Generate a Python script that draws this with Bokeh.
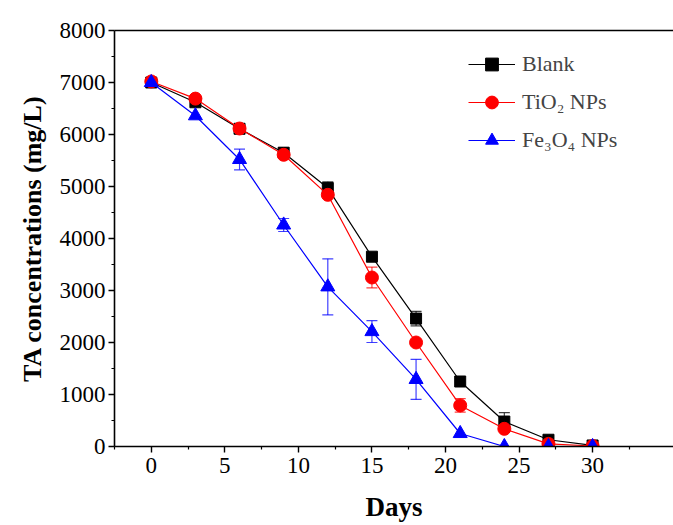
from bokeh.plotting import figure
from bokeh.models import (Range1d, LinearAxis, Whisker, TeeHead, ColumnDataSource,
                          Legend, LegendItem, FixedTicker)
from bokeh.embed import file_html
from bokeh.resources import INLINE

days = [0, 3, 6, 9, 12, 15, 18, 21, 24, 27, 30]
blank = [7000, 6620, 6110, 5650, 4970, 3650, 2460, 1250, 480, 130, 20]
tio2 = [7020, 6690, 6115, 5610, 4840, 3250, 2000, 790, 340, 50, 10]
fe3o4 = [7000, 6360, 5520, 4260, 3070, 2210, 1290, 250, 0, 0, 0]

blank_err = [0, 0, 0, 100, 120, 0, 140, 0, 170, 0, 0]
tio2_err = [0, 0, 0, 0, 0, 200, 0, 130, 0, 0, 0]
fe3o4_err = [0, 0, 200, 125, 540, 210, 385, 0, 0, 0, 0]

x_ticks = [0, 5, 10, 15, 20, 25, 30]
x_minor = [-2.5, 2.5, 7.5, 12.5, 17.5, 22.5, 27.5, 32.5]
y_ticks = [0, 1000, 2000, 3000, 4000, 5000, 6000, 7000, 8000]
y_minor = [500, 1500, 2500, 3500, 4500, 5500, 6500, 7500]

labels = ["Blank", "TiO\u2082 NPs", "Fe\u2083O\u2084 NPs"]
colors = ["black", "red", "blue"]
markers = ["square", "circle", "triangle"]
msizes = [11, 13, 14]

FONT = "Liberation Serif"

p = figure(width=673, height=525, output_backend="svg", toolbar_location=None,
           x_range=Range1d(-2.5, 35.5), y_range=Range1d(0, 8000),
           min_border_left=114, min_border_right=0, min_border_top=30,
           min_border_bottom=79)
p.grid.visible = False
p.outline_line_color = None
p.background_fill_color = "white"
p.border_fill_color = "white"

for ax in (p.xaxis[0], p.yaxis[0]):
    ax.axis_line_width = 1.6
    ax.major_tick_line_width = 1.4
    ax.minor_tick_line_width = 1.2
    ax.major_tick_out = 6
    ax.major_tick_in = 0
    ax.minor_tick_out = 3
    ax.minor_tick_in = 0
    ax.major_label_text_font = FONT
    ax.major_label_text_font_size = "23px"
    ax.major_label_text_color = "black"
    ax.axis_label_text_font = FONT
    ax.axis_label_text_font_style = "bold"
    ax.axis_label_text_color = "black"

p.xaxis[0].ticker = FixedTicker(ticks=x_ticks, minor_ticks=x_minor)
p.yaxis[0].ticker = FixedTicker(ticks=y_ticks, minor_ticks=y_minor)
p.xaxis[0].axis_label = "Days"
p.xaxis[0].axis_label_text_font_size = "27px"
p.xaxis[0].axis_label_standoff = 16
p.xaxis[0].major_label_standoff = 5
p.yaxis[0].axis_label = "TA concentrations (mg/L)"
p.yaxis[0].axis_label_text_font_size = "26px"
p.yaxis[0].axis_label_standoff = 10
p.yaxis[0].major_label_standoff = 3

top = LinearAxis(ticker=FixedTicker(ticks=[], minor_ticks=[]), major_tick_out=0,
                 major_tick_in=0, minor_tick_out=0, minor_tick_in=0, axis_line_width=1.6)
p.add_layout(top, "above")

items = []
for ys, errs, c, m, s, lab in zip([blank, tio2, fe3o4], [blank_err, tio2_err, fe3o4_err],
                                  colors, markers, msizes, labels):
    ln = p.line(days, ys, line_color=c, line_width=1.2)
    ex = [d for d, e in zip(days, errs) if e > 0]
    up = [y + e for y, e in zip(ys, errs) if e > 0]
    lo = [y - e for y, e in zip(ys, errs) if e > 0]
    src = ColumnDataSource(dict(x=ex, upper=up, lower=lo))
    w = Whisker(base="x", upper="upper", lower="lower", source=src,
                line_color=c, line_width=1.2, line_alpha=0.75,
                upper_head=TeeHead(size=11, line_color=c, line_width=1.2, line_alpha=0.75),
                lower_head=TeeHead(size=11, line_color=c, line_width=1.2, line_alpha=0.75))
    p.add_layout(w)
    sc = p.scatter(days, ys, marker=m, size=s, fill_color=c, line_color=c)
    items.append(LegendItem(label=lab, renderers=[ln, sc]))

legend = Legend(items=items, location=(354, 289), border_line_color=None,
                background_fill_alpha=0, padding=0, margin=0, spacing=4,
                label_height=34, glyph_height=32, glyph_width=47, label_standoff=7,
                label_text_font=FONT, label_text_font_size="22px")
p.add_layout(legend, "center")

open("out.html", "w").write(file_html(p, INLINE))
